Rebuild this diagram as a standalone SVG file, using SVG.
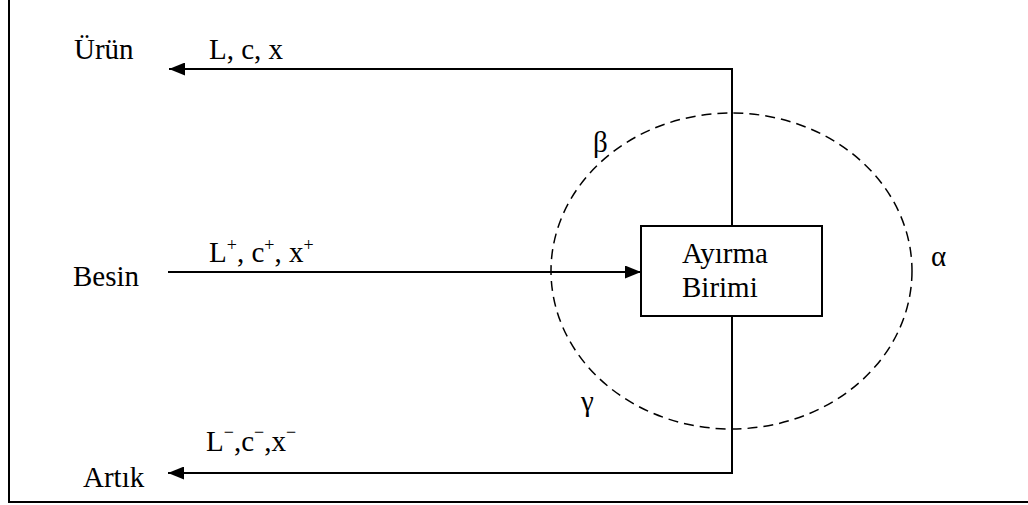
<svg xmlns="http://www.w3.org/2000/svg" width="1028" height="505" viewBox="0 0 1028 505">
<style>
text{fill:#000;font-size:29px}
.sup{font-size:18px}
.ln{stroke:#000;stroke-width:2;fill:none}
</style>
<defs>
<marker id="ah" markerWidth="16" markerHeight="13" refX="16" refY="6.5" orient="auto" markerUnits="userSpaceOnUse">
<path d="M0,0 L16,6.5 L0,13 Z" fill="#000"/>
</marker>
</defs>
<rect width="1028" height="505" fill="#fff"/>
<g id="frame">
<path class="ln" d="M9,0 V502 H1028"/>
</g>
<g id="boundary">
<ellipse cx="731.5" cy="271" rx="180.5" ry="158" fill="none" stroke="#000" stroke-width="1.5" stroke-dasharray="10,6"/>
<text x="593" y="152" font-size="26" font-family="Liberation Serif, serif">β</text>
<text x="581" y="411" font-size="36" font-family="Liberation Serif, serif">γ</text>
<text x="931" y="266" font-size="32" font-family="Liberation Serif, serif">α</text>
</g>
<g id="connectors">
<path class="ln" d="M732,226 V69 H169" marker-end="url(#ah)"/>
<path class="ln" d="M168,272 H641" marker-end="url(#ah)"/>
<path class="ln" d="M732,316 V473 H168" marker-end="url(#ah)"/>
</g>
<g id="unit" font-family="Liberation Serif, serif">
<rect x="641" y="226" width="181" height="90" fill="#fff" stroke="#000" stroke-width="2"/>
<text x="682" y="263">Ayırma</text>
<text x="682" y="297">Birimi</text>
</g>
<g id="urun" font-family="Liberation Serif, serif">
<text x="74" y="59">Ürün</text>
<text x="209" y="59">L, c, x</text>
</g>
<g id="besin" font-family="Liberation Serif, serif">
<text x="73" y="286">Besin</text>
<text x="209" y="262">L<tspan class="sup" dy="-11">+</tspan><tspan dy="11">, c</tspan><tspan class="sup" dy="-11">+</tspan><tspan dy="11">, x</tspan><tspan class="sup" dy="-11">+</tspan></text>
</g>
<g id="artik" font-family="Liberation Serif, serif">
<text x="83" y="487">Artık</text>
<text x="206" y="451">L<tspan class="sup" dy="-13">−</tspan><tspan dy="13">,c</tspan><tspan class="sup" dy="-13">−</tspan><tspan dy="13">,x</tspan><tspan class="sup" dy="-13">−</tspan></text>
</g>
</svg>
